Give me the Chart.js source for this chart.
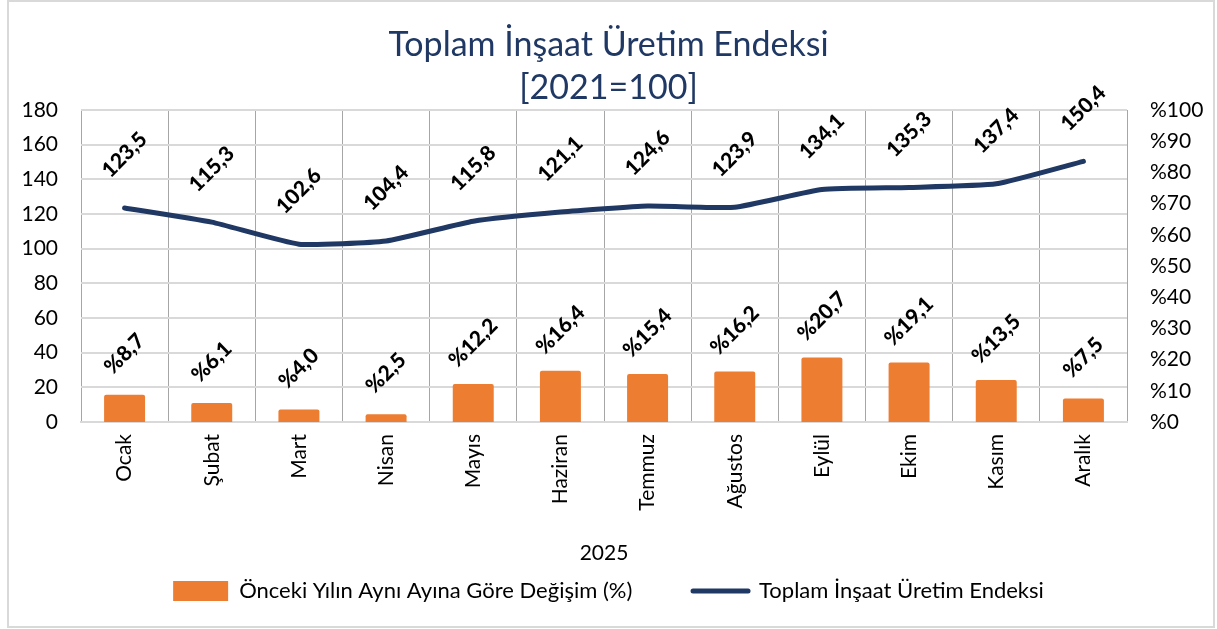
<!DOCTYPE html>
<html>
<head>
<meta charset="utf-8">
<script src="https://cdn.jsdelivr.net/npm/chart.js@4.4.1/dist/chart.umd.min.js"></script>
<style>
  body { margin: 0; background: #fff; }
</style>
</head>
<body>
<canvas id="insaat-chart" width="1217" height="629"></canvas>
<script>
// veriler
var aylar = ["Ocak", "Şubat", "Mart", "Nisan", "Mayıs", "Haziran", "Temmuz", "Ağustos", "Eylül", "Ekim", "Kasım", "Aralık"];
var endeks = [123.5, 115.3, 102.6, 104.4, 115.8, 121.1, 124.6, 123.9, 134.1, 135.3, 137.4, 150.4];
var degisim = [8.7, 6.1, 4.0, 2.5, 12.2, 16.4, 15.4, 16.2, 20.7, 19.1, 13.5, 7.5];
var solEksen = [0, 20, 40, 60, 80, 100, 120, 140, 160, 180];
var sagEksen = [0, 10, 20, 30, 40, 50, 60, 70, 80, 90, 100];

var yaziTipi = "Lato, 'Open Sans', sans-serif";

function virgul(v) {
    return v.toFixed(1).replace(".", ",");
}

// arka plan ve dış çerçeve
var cerceve = {
    id: "cerceve",
    beforeDraw: function (chart) {
        var ctx = chart.ctx;
        ctx.save();
        ctx.fillStyle = "#fff";
        ctx.fillRect(0, 0, chart.width, chart.height);
        ctx.strokeStyle = "#d9d9d9";
        ctx.lineWidth = 2;
        ctx.strokeRect(8, 1, chart.width - 11, chart.height - 3);
        ctx.restore();
    }
};

// eğik veri etiketleri
var etiketler = {
    id: "etiketler",
    afterDatasetsDraw: function (chart) {
        var ctx = chart.ctx;
        ctx.save();
        ctx.font = "900 21px " + yaziTipi;
        ctx.fillStyle = "#000";
        ctx.textAlign = "center";
        ctx.textBaseline = "middle";
        chart.data.datasets.forEach(function (ds, i) {
            var meta = chart.getDatasetMeta(i);
            meta.data.forEach(function (el, j) {
                var txt, dy;
                if (ds.type === "bar") {
                    txt = "%" + virgul(ds.data[j]);
                    dy = -41;
                } else {
                    txt = virgul(ds.data[j]);
                    dy = -53;
                }
                ctx.save();
                ctx.translate(el.x, el.y + dy);
                ctx.rotate(-Math.PI / 4);
                ctx.fillText(txt, 0, 0);
                ctx.restore();
            });
        });
        ctx.restore();
    }
};

var ctx = document.getElementById("insaat-chart").getContext("2d");
var grafik = new Chart(ctx, {
    data: {
        labels: aylar,
        datasets: [{
            type: "bar",
            label: "Önceki Yılın Aynı Ayına Göre Değişim (%)",
            data: degisim,
            yAxisID: "y1",
            backgroundColor: "#ED7D31",
            borderRadius: 2,
            barPercentage: 0.47,
            categoryPercentage: 1
        }, {
            type: "line",
            label: "Toplam İnşaat Üretim Endeksi",
            data: endeks,
            yAxisID: "y",
            borderColor: "#203864",
            backgroundColor: "#203864",
            borderWidth: 5,
            borderCapStyle: "round",
            pointRadius: 0,
            tension: 0.15
        }]
    },
    options: {
        responsive: false,
        animation: false,
        layout: { padding: { left: 8, right: 8, bottom: 17 } },
        plugins: {
            title: {
                display: true,
                text: ["Toplam İnşaat Üretim Endeksi", "[2021=100]"],
                color: "#203864",
                font: { family: yaziTipi, size: 34, weight: "normal", lineHeight: 1.25 },
                padding: { top: 24, bottom: 1 }
            },
            legend: {
                position: "bottom",
                labels: {
                    color: "#000",
                    font: { family: yaziTipi, size: 22 },
                    usePointStyle: true,
                    pointStyleWidth: 55,
                    boxHeight: 20,
                    padding: 10,
                    generateLabels: function (chart) {
                        return chart.data.datasets.map(function (ds, i) {
                            var cubuk = ds.type === "bar";
                            return {
                                // ilk öğeden sonra boşluk bırak
                                text: cubuk ? ds.label + "         " : ds.label,
                                fillStyle: ds.backgroundColor,
                                strokeStyle: cubuk ? ds.backgroundColor : ds.borderColor,
                                lineWidth: cubuk ? 0 : 5,
                                lineCap: "round",
                                pointStyle: cubuk ? "rect" : "line",
                                fontColor: "#000",
                                datasetIndex: i
                            };
                        });
                    }
                }
            },
            tooltip: { enabled: false }
        },
        scales: {
            x: {
                offset: true,
                grid: { color: "#a6a6a6", lineWidth: 1, drawTicks: false, offset: true },
                border: { color: "#d9d9d9", width: 2 },
                ticks: {
                    color: "#000",
                    font: { family: yaziTipi, size: 21 },
                    minRotation: 90,
                    maxRotation: 90,
                    padding: 12
                },
                title: {
                    display: true,
                    text: "2025",
                    color: "#000",
                    font: { family: yaziTipi, size: 21 },
                    padding: { top: 4, bottom: 4 }
                },
                afterFit: function (scale) { scale.height = 148; }
            },
            y: {
                position: "left",
                min: 0,
                max: 180,
                afterBuildTicks: function (scale) {
                    scale.ticks = solEksen.map(function (v) { return { value: v }; });
                },
                grid: { color: "#d9d9d9", lineWidth: 2, drawTicks: false },
                border: { display: false },
                ticks: {
                    color: "#000",
                    font: { family: yaziTipi, size: 21 },
                    padding: 23
                },
                afterFit: function (scale) { scale.width = 73; }
            },
            y1: {
                position: "right",
                min: 0,
                max: 100,
                afterBuildTicks: function (scale) {
                    scale.ticks = sagEksen.map(function (v) { return { value: v }; });
                },
                grid: { display: false, drawTicks: false },
                border: { display: false },
                ticks: {
                    color: "#000",
                    font: { family: yaziTipi, size: 21 },
                    padding: 23,
                    callback: function (v) { return "%" + v; }
                },
                afterFit: function (scale) { scale.width = 82; }
            }
        }
    },
    plugins: [cerceve, etiketler]
});
</script>
</body>
</html>
